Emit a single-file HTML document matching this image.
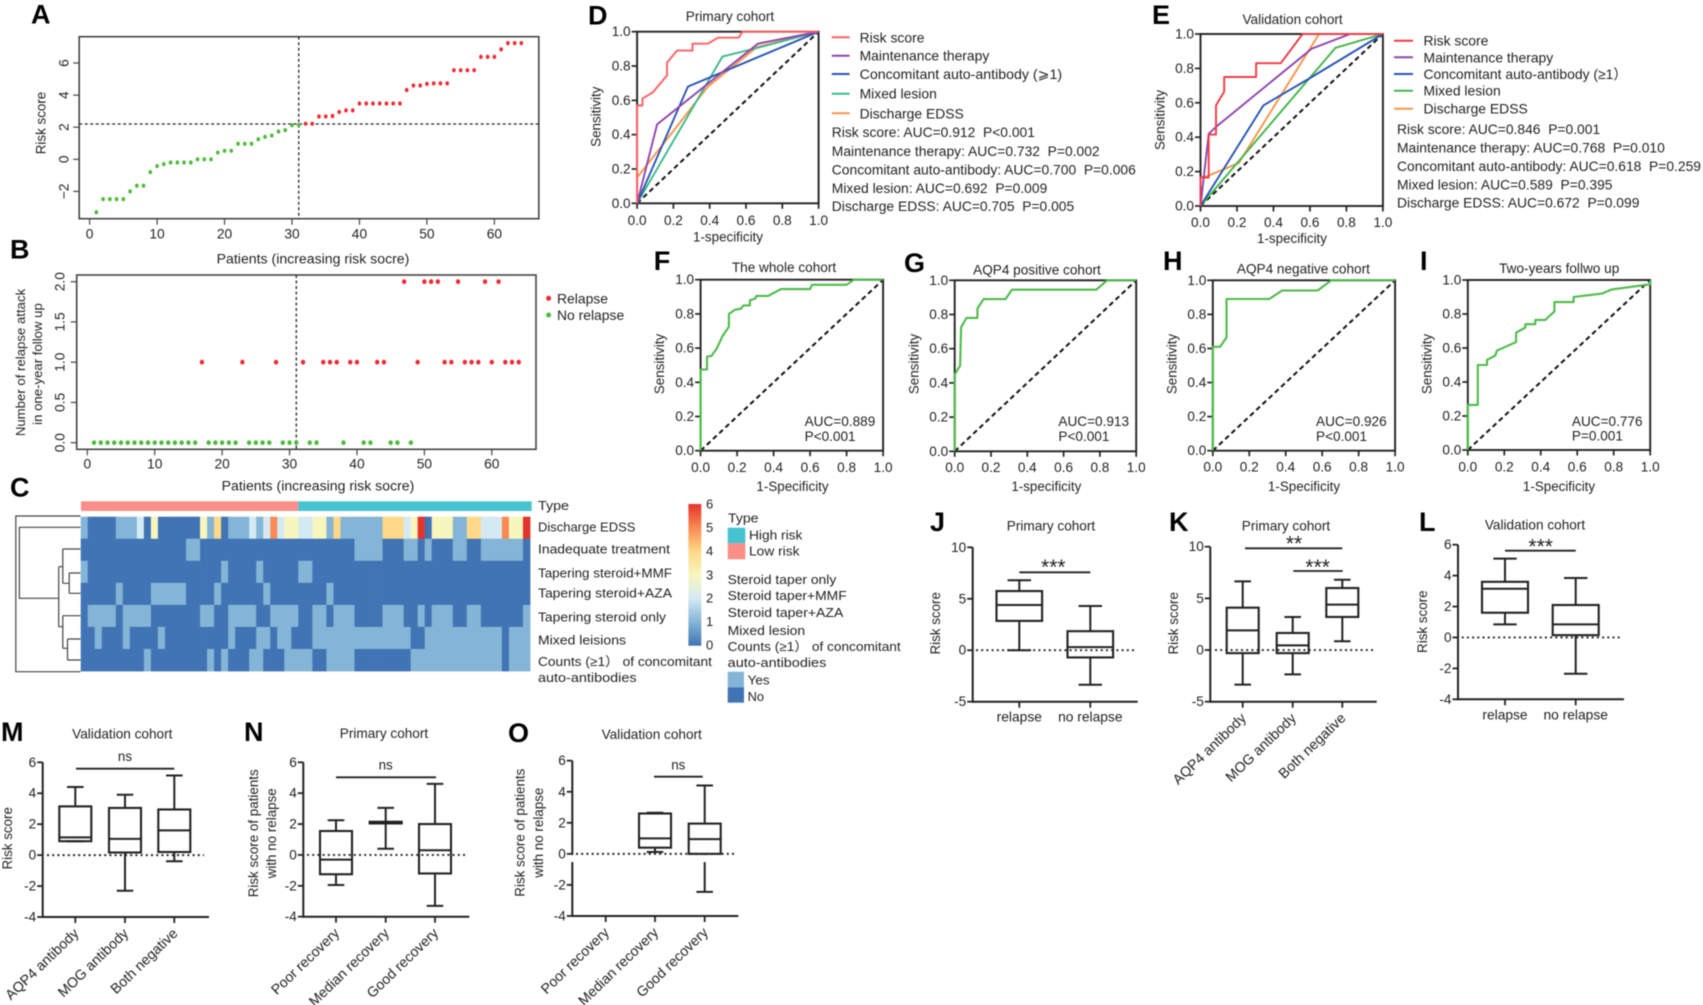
<!DOCTYPE html>
<html lang="en">
<head>
<meta charset="utf-8">
<title>Risk score figure panels A-O</title>
<style>
html,body{margin:0;padding:0;background:#fff;width:1703px;height:1005px;overflow:hidden}
svg{display:block;filter:blur(0.55px)}
text{font-family:"Liberation Sans","Noto Sans CJK SC","DejaVu Sans",sans-serif;fill:#222;font-size:14px;dominant-baseline:central;white-space:pre}
.letter{font-size:27px;font-weight:bold;fill:#000}
.title{font-size:13.6px;text-anchor:middle}
.axlab{font-size:13.4px;text-anchor:middle}
.leg{font-size:13.9px}
.stat{font-size:13.85px}
.auc{font-size:13.6px}
.heat{font-size:13px}
.sig{font-size:21px;text-anchor:middle}
</style>
</head>
<body>
<svg id="figure" xmlns="http://www.w3.org/2000/svg" width="1703" height="1005" viewBox="0 0 1703 1005">
<defs>
<linearGradient id="heat-gradient" x1="0" y1="1" x2="0" y2="0">
<stop offset="0" stop-color="#4174b4"/><stop offset="0.167" stop-color="#84b5d6"/><stop offset="0.333" stop-color="#d4eaf3"/><stop offset="0.5" stop-color="#f7f6bd"/><stop offset="0.667" stop-color="#fed987"/><stop offset="0.833" stop-color="#f98a54"/><stop offset="1" stop-color="#e3342b"/>
</linearGradient>
</defs>

<g id="panel-a">
<text class="letter" x="31" y="14.5">A</text>
<text class="axlab" transform="translate(41 123) rotate(-90)">Risk score</text>
<text class="axlab" style="font-size:14.1px" x="313" y="258.5">Patients (increasing risk socre)</text>
</g>

<g id="panel-b">
<text class="letter" x="10" y="249.5">B</text>
<text class="axlab" style="font-size:13.2px" transform="translate(20.4 362.5) rotate(-90)">Number of relapse attack</text>
<text class="axlab" style="font-size:13.2px" transform="translate(37.5 364) rotate(-90)">in one-year follow up</text>
<text class="axlab" style="font-size:14.1px" x="318" y="485.7">Patients (increasing risk socre)</text>
<circle cx="548.6" cy="298.3" r="2.5" fill="#ee2a32"/>
<text x="557" y="298.3" class="leg">Relapse</text>
<circle cx="548.6" cy="315" r="2.5" fill="#4dbb3a"/>
<text x="557" y="315" class="leg">No relapse</text>
</g>

<g id="panel-c">
<text class="letter" x="10" y="487.5">C</text>
<path fill="none" stroke="#444" stroke-width="1.2" d="M80.4 516H15.8V671.7H80.4M80.4 527.3H19.4V598.3H58.7M58.7 566.7V626.7M58.7 566.7H62.8M62.8 549V583.3M62.8 549H80.4M62.8 583.3H69.2M69.2 573V593.3M69.2 573H80.4M69.2 593.3H80.4M58.7 626.7H62.8M62.8 615.7V648.3M62.8 615.7H80.4M62.8 648.3H67.5M67.5 639V660M67.5 639H80.4M67.5 660H80.4"/>
<text class="heat" x="538" y="505.7" textLength="31" lengthAdjust="spacingAndGlyphs">Type</text>
<text class="heat" x="538" y="527" textLength="97.4" lengthAdjust="spacingAndGlyphs">Discharge EDSS</text>
<text class="heat" x="538" y="549" textLength="132" lengthAdjust="spacingAndGlyphs">Inadequate treatment</text>
<text class="heat" x="538" y="573" textLength="134" lengthAdjust="spacingAndGlyphs">Tapering steroid+MMF</text>
<text class="heat" x="538" y="593" textLength="134" lengthAdjust="spacingAndGlyphs">Tapering steroid+AZA</text>
<text class="heat" x="538" y="617" textLength="128" lengthAdjust="spacingAndGlyphs">Tapering steroid only</text>
<text class="heat" x="538" y="640" textLength="88" lengthAdjust="spacingAndGlyphs">Mixed leisions</text>
<text class="heat" x="538" y="661.7" textLength="174" lengthAdjust="spacingAndGlyphs">Counts (≥1） of concomitant</text>
<text class="heat" x="538" y="677.7" textLength="98.6" lengthAdjust="spacingAndGlyphs">auto-antibodies</text>
<rect x="688.4" y="504" width="12.9" height="141.7" fill="url(#heat-gradient)"/>
<text class="heat" x="706" y="504">6</text>
<text class="heat" x="706" y="527.7">5</text>
<text class="heat" x="706" y="551">4</text>
<text class="heat" x="706" y="575">3</text>
<text class="heat" x="706" y="598">2</text>
<text class="heat" x="706" y="621.7">1</text>
<text class="heat" x="706" y="645">0</text>
<text class="heat" x="728" y="518" textLength="30.5" lengthAdjust="spacingAndGlyphs">Type</text>
<rect x="727.7" y="527.7" width="17.6" height="15.6" fill="#45c4d0"/>
<rect x="727.7" y="543.3" width="17.6" height="16" fill="#f98f88"/>
<text class="heat" x="749" y="535" textLength="53.4" lengthAdjust="spacingAndGlyphs">High risk</text>
<text class="heat" x="749" y="551" textLength="50.5" lengthAdjust="spacingAndGlyphs">Low risk</text>
<text class="heat" x="727.7" y="579.3" textLength="108.6" lengthAdjust="spacingAndGlyphs">Steroid taper only</text>
<text class="heat" x="727.7" y="595.7" textLength="119" lengthAdjust="spacingAndGlyphs">Steroid taper+MMF</text>
<text class="heat" x="727.7" y="612.7" textLength="115.6" lengthAdjust="spacingAndGlyphs">Steroid taper+AZA</text>
<text class="heat" x="727.7" y="630.7" textLength="77.5" lengthAdjust="spacingAndGlyphs">Mixed lesion</text>
<text class="heat" x="727.7" y="646.7" textLength="173" lengthAdjust="spacingAndGlyphs">Counts (≥1） of concomitant</text>
<text class="heat" x="727.7" y="662.3" textLength="98.6" lengthAdjust="spacingAndGlyphs">auto-antibodies</text>
<rect x="727.7" y="671.7" width="16.3" height="15.6" fill="#84b5d6"/>
<rect x="727.7" y="687.3" width="16.3" height="15.4" fill="#4174b4"/>
<text class="heat" x="747.6" y="680" textLength="22" lengthAdjust="spacingAndGlyphs">Yes</text>
<text class="heat" x="747.6" y="696.7" textLength="16.4" lengthAdjust="spacingAndGlyphs">No</text>
</g>

<g id="panel-d">
<text class="letter" x="588" y="15.3">D</text>
<text class="title" x="730" y="16.7">Primary cohort</text>
<text class="axlab" transform="translate(596 116.7) rotate(-90)">Sensitivity</text>
<text class="axlab" x="728" y="237">1-specificity</text>
<line x1="831.8" x2="849.6" y1="37.3" y2="37.3" stroke="#ff5f63" stroke-width="2"/>
<line x1="831.8" x2="849.6" y1="55.7" y2="55.7" stroke="#8e44ad" stroke-width="2"/>
<line x1="831.8" x2="849.6" y1="74" y2="74" stroke="#2a55b5" stroke-width="2"/>
<line x1="831.8" x2="849.6" y1="93.7" y2="93.7" stroke="#3cb98a" stroke-width="2"/>
<line x1="831.8" x2="849.6" y1="113.3" y2="113.3" stroke="#f7964a" stroke-width="2"/>
<text class="leg" x="859.6" y="37.3">Risk score</text>
<text class="leg" x="859.6" y="55.7">Maintenance therapy</text>
<text class="leg" x="859.6" y="74" textLength="202.5" lengthAdjust="spacingAndGlyphs">Concomitant auto-antibody (⩾1)</text>
<text class="leg" x="859.6" y="93.7">Mixed lesion</text>
<text class="leg" x="859.6" y="113.3">Discharge EDSS</text>
<text class="stat" x="831.8" y="132">Risk score: AUC=0.912  P&lt;0.001</text>
<text class="stat" x="831.8" y="151">Maintenance therapy: AUC=0.732  P=0.002</text>
<text class="stat" x="831.8" y="169.7">Concomitant auto-antibody: AUC=0.700  P=0.006</text>
<text class="stat" x="831.8" y="188">Mixed lesion: AUC=0.692  P=0.009</text>
<text class="stat" x="831.8" y="206">Discharge EDSS: AUC=0.705  P=0.005</text>
</g>

<g id="panel-e">
<text class="letter" x="1152" y="15">E</text>
<text class="title" x="1292.6" y="19.3">Validation cohort</text>
<text class="axlab" transform="translate(1160 120) rotate(-90)">Sensitivity</text>
<text class="axlab" x="1292" y="238.3">1-specificity</text>
<line x1="1394" x2="1413" y1="40.7" y2="40.7" stroke="#ee3b45" stroke-width="2"/>
<line x1="1394" x2="1413" y1="57.3" y2="57.3" stroke="#8e44ad" stroke-width="2"/>
<line x1="1394" x2="1413" y1="74" y2="74" stroke="#2a55b5" stroke-width="2"/>
<line x1="1394" x2="1413" y1="90.7" y2="90.7" stroke="#43b649" stroke-width="2"/>
<line x1="1394" x2="1413" y1="108.7" y2="108.7" stroke="#f7964a" stroke-width="2"/>
<text class="leg" x="1423.5" y="40.7">Risk score</text>
<text class="leg" x="1423.5" y="57.3">Maintenance therapy</text>
<text class="leg" x="1423.5" y="74">Concomitant auto-antibody (≥1）</text>
<text class="leg" x="1423.5" y="90.7">Mixed lesion</text>
<text class="leg" x="1423.5" y="108.7">Discharge EDSS</text>
<text class="stat" x="1397" y="129">Risk score: AUC=0.846  P=0.001</text>
<text class="stat" x="1397" y="147.7">Maintenance therapy: AUC=0.768  P=0.010</text>
<text class="stat" x="1397" y="166">Concomitant auto-antibody: AUC=0.618  P=0.259</text>
<text class="stat" x="1397" y="184.3">Mixed lesion: AUC=0.589  P=0.395</text>
<text class="stat" x="1397" y="202.7">Discharge EDSS: AUC=0.672  P=0.099</text>
</g>

<g id="panel-f">
<text class="letter" x="653.8" y="261">F</text>
<text class="title" x="784" y="267.3">The whole cohort</text>
<text class="axlab" transform="translate(659.6 364) rotate(-90)">Sensitivity</text>
<text class="axlab" x="792.5" y="486.7">1-Specificity</text>
<text class="auc" x="804.6" y="421.7">AUC=0.889</text>
<text class="auc" x="804.6" y="436.7">P&lt;0.001</text>
</g>
<g id="panel-g">
<text class="letter" x="904" y="263">G</text>
<text class="title" x="1037" y="270">AQP4 positive cohort</text>
<text class="axlab" transform="translate(913.8 364) rotate(-90)">Sensitivity</text>
<text class="axlab" x="1046.3" y="486.7">1-specificity</text>
<text class="auc" x="1058.4" y="421.7">AUC=0.913</text>
<text class="auc" x="1058.4" y="436.7">P&lt;0.001</text>
</g>
<g id="panel-h">
<text class="letter" x="1163" y="261">H</text>
<text class="title" x="1303.4" y="269">AQP4 negative cohort</text>
<text class="axlab" transform="translate(1171.9 364) rotate(-90)">Sensitivity</text>
<text class="axlab" x="1304" y="486.7">1-Specificity</text>
<text class="auc" x="1316" y="421.7">AUC=0.926</text>
<text class="auc" x="1316" y="436.7">P&lt;0.001</text>
</g>
<g id="panel-i">
<text class="letter" x="1420" y="261">I</text>
<text class="title" x="1559.2" y="268.3">Two-years follwo up</text>
<text class="axlab" transform="translate(1426.9 364) rotate(-90)">Sensitivity</text>
<text class="axlab" x="1559" y="486.7">1-Specificity</text>
<text class="auc" x="1571.9" y="421.7">AUC=0.776</text>
<text class="auc" x="1571.9" y="436">P=0.001</text>
</g>

<g id="panel-j">
<text class="letter" x="930" y="522">J</text>
<text class="title" x="1051" y="526">Primary cohort</text>
<text class="axlab" transform="translate(935.7 623.3) rotate(-90)">Risk score</text>
<line x1="1019.3" x2="1090.3" y1="572.3" y2="572.3" stroke="#222" stroke-width="1.8"/>
<text class="sig" x="1053.3" y="567.6">***</text>
</g>
<g id="panel-k">
<text class="letter" x="1169" y="522">K</text>
<text class="title" x="1286" y="526">Primary cohort</text>
<text class="axlab" transform="translate(1173.3 623.3) rotate(-90)">Risk score</text>
<line x1="1245" x2="1342.3" y1="548.3" y2="548.3" stroke="#222" stroke-width="1.8"/>
<text class="sig" x="1294" y="544">**</text>
<line x1="1293.3" x2="1342.7" y1="571" y2="571" stroke="#222" stroke-width="1.8"/>
<text class="sig" x="1317.7" y="567.6">***</text>
</g>
<g id="panel-l">
<text class="letter" x="1419" y="522">L</text>
<text class="title" x="1535" y="525">Validation cohort</text>
<text class="axlab" transform="translate(1422.7 621.7) rotate(-90)">Risk score</text>
<line x1="1505" x2="1575.7" y1="550.7" y2="550.7" stroke="#222" stroke-width="1.8"/>
<text class="sig" x="1540.7" y="547">***</text>
</g>
<g id="panel-m">
<text class="letter" x="1" y="732">M</text>
<text class="title" x="122.3" y="734">Validation cohort</text>
<text class="axlab" transform="translate(7.7 838.3) rotate(-90)">Risk score</text>
<line x1="76" x2="174.3" y1="768.7" y2="768.7" stroke="#222" stroke-width="1.8"/>
<text class="axlab" x="125" y="756.7">ns</text>
</g>
<g id="panel-n">
<text class="letter" x="244" y="732">N</text>
<text class="title" x="384" y="733.3">Primary cohort</text>
<text class="axlab" transform="translate(253.3 833.3) rotate(-90)">Risk score of patients</text>
<text class="axlab" transform="translate(271.7 833.3) rotate(-90)">with no relapse</text>
<line x1="336" x2="436" y1="777.3" y2="777.3" stroke="#222" stroke-width="1.8"/>
<text class="axlab" x="385.7" y="765">ns</text>
</g>
<g id="panel-o">
<text class="letter" x="508" y="733">O</text>
<text class="title" x="651.7" y="734.3">Validation cohort</text>
<text class="axlab" transform="translate(520 832.7) rotate(-90)">Risk score of patients</text>
<text class="axlab" transform="translate(538.3 832.7) rotate(-90)">with no relapse</text>
<line x1="654" x2="702.7" y1="776.7" y2="776.7" stroke="#222" stroke-width="1.8"/>
<text class="axlab" x="678.3" y="765">ns</text>
</g>
</svg>

<script>
// ---------- Panels A and B ----------
const riskScores = [-3.3,-2.48,-2.48,-2.48,-2.48,-2,-1.65,-1.65,-0.8,-0.42,-0.3,-0.2,-0.2,-0.2,-0.2,0,0,0,0.42,0.53,0.53,0.97,0.97,0.97,1.25,1.4,1.48,1.73,1.82,2.13,2.13,2.22,2.22,2.67,2.67,2.7,2.95,3.05,3.05,3.48,3.48,3.48,3.48,3.48,3.48,3.48,4.32,4.6,4.6,4.7,4.73,4.73,4.73,5.55,5.55,5.55,5.55,6.38,6.38,6.38,6.85,7.24,7.24,7.24];
const relapseCounts = [0,0,0,0,0,0,0,0,0,0, 0,0,0,0,0,0,1,0,0,0, 0,0,1,0,0,0,0,1,0,0, 0,1,0,0,1,1,1,0,1,1, 0,0,1,1,0,0,2,0,1,2, 2,2,1,1,2,1,1,1,2,1, 2,1,1,1];
const riskCutoffPatient = 31;
const riskCutoffScore = 2.2;
const patientTicks = [0,10,20,30,40,50,60];
const riskTicks = [-2,0,2,4,6];
const riskTickLabels = ['−2','0','2','4','6'];
const relapseTicks = [0,0.5,1,1.5,2];
const relapseTickLabels = ['0.0','0.5','1.0','1.5','2.0'];

// ---------- Panel C ----------
const heatDischargeEdss = [1,0,0,0,0,1,1,1,2,0, 3,0,0,0,0,0,0,3,1,4, 0,1,1,1,2,1,2,5,2,3, 3,2,2,3,3,1,4,1,1,1, 1,1,1,4,4,4,2,3,6,0, 3,3,3,1,1,4,4,2,2,2, 5,3,3,6];
const heatInadequateTreatment = [0,0,0,0,0,0,0,0,0,0, 0,0,0,0,0,1,1,0,0,0, 0,0,0,0,0,0,0,0,0,0, 0,0,0,0,0,0,0,0,0,1, 1,1,1,0,0,0,1,1,0,1, 0,0,0,1,1,0,0,1,1,1, 1,1,1,0];
const heatSteroidMmf = [1,0,0,0,0,0,0,0,0,0, 0,0,0,0,0,0,0,0,0,0, 1,0,0,0,0,1,0,0,0,0, 0,1,1,0,0,0,0,0,0,0, 0,0,0,0,0,0,0,0,0,0, 0,0,0,0,0,0,0,0,0,0, 0,0,0,0];
const heatSteroidAza = [0,0,0,0,0,1,0,0,0,0, 1,1,1,1,1,0,0,0,0,1, 0,0,0,0,0,0,1,0,0,0, 0,0,0,0,0,1,0,0,0,0, 0,0,0,0,0,0,0,0,0,0, 0,0,0,0,0,0,0,0,0,0, 0,0,0,0];
const heatSteroidOnly = [0,1,1,1,1,0,1,1,1,1, 0,0,0,0,0,0,0,1,1,0, 0,1,1,1,1,0,0,1,1,1, 1,0,0,1,1,0,1,1,1,0, 0,0,0,1,1,1,0,0,1,0, 1,1,1,0,0,1,1,0,0,0, 0,0,0,1];
const heatMixedLesions = [0,0,1,0,0,0,1,0,0,0, 0,1,0,0,0,0,0,0,0,0, 0,1,0,0,0,1,1,0,1,1, 0,0,0,1,1,1,1,1,1,1, 1,1,1,1,1,1,1,0,0,1, 1,1,1,1,1,1,1,1,1,1, 0,1,1,1];
const heatAntibodyCounts = [0,0,0,0,0,0,0,0,0,1, 0,0,0,0,0,0,0,0,1,0, 1,0,0,0,1,1,0,0,0,1, 1,1,1,0,0,1,1,1,1,0, 0,0,0,0,0,0,0,1,1,1, 1,1,1,1,1,1,1,1,1,1, 0,1,1,1];
const heatPalette = ['#4174b4','#84b5d6','#d4eaf3','#f7f6bd','#fed987','#f98a54','#e3342b'];

// ---------- ROC curves: [1-specificity, sensitivity] ----------
const rocTicks = [0,0.2,0.4,0.6,0.8,1];
const rocTickLabels = ['0.0','0.2','0.4','0.6','0.8','1.0'];
const rocDRiskScore = [[0,0],[0,.57],[.03,.57],[.03,.61],[.085,.645],[.165,.745],[.165,.82],[.22,.89],[.305,.89],[.305,.93],[.39,.93],[.445,.965],[.56,.965],[.58,1],[1,1]];
const rocDMaintenance = [[0,0],[.11,.46],[.665,.93],[1,1]];
const rocDConcomitant = [[0,0],[.28,.68],[1,1]];
const rocDMixed = [[0,0],[.47,.855],[.66,.905],[1,1]];
const rocDEdss = [[0,0],[0,.15],[.39,.68],[.66,.91],[1,1]];
const rocERiskScore = [[0,0],[0,.165],[.045,.165],[.045,.415],[.085,.415],[.085,.585],[.13,.665],[.13,.75],[.305,.75],[.305,.83],[.44,.83],[.56,1],[1,1]];
const rocEMaintenance = [[0,0],[.045,.42],[.085,.46],[.61,.915],[.82,1],[1,1]];
const rocEConcomitant = [[0,0],[.345,.585],[.61,.75],[1,1]];
const rocEMixed = [[0,0],[.74,.92],[1,1]];
const rocEEdss = [[0,0],[0,.165],[.04,.175],[.21,.25],[.65,1],[1,1]];
const rocWhole = [[0,0],[0,.475],[.035,.475],[.035,.55],[.06,.555],[.09,.6],[.12,.67],[.155,.725],[.155,.8],[.19,.825],[.22,.83],[.235,.85],[.27,.85],[.27,.88],[.3,.89],[.305,.905],[.37,.905],[.44,.945],[.6,.945],[.61,.97],[.8,.97],[.84,1],[1,1]];
const rocAqp4Positive = [[0,0],[0,.45],[.03,.5],[.035,.725],[.065,.78],[.125,.78],[.125,.835],[.16,.89],[.28,.89],[.315,.945],[.78,.945],[.84,1],[1,1]];
const rocAqp4Negative = [[0,0],[0,.61],[.04,.61],[.075,.665],[.075,.89],[.31,.89],[.38,.94],[.575,.94],[.65,1],[1,1]];
const rocTwoYear = [[0,0],[0,.265],[.055,.265],[.055,.5],[.105,.5],[.105,.53],[.15,.555],[.16,.585],[.265,.635],[.265,.69],[.315,.72],[.315,.74],[.37,.74],[.37,.765],[.425,.765],[.475,.815],[.475,.87],[.58,.87],[.58,.9],[.735,.92],[.79,.945],[1,.975],[1,1]];

// ---------- Box plots: [low whisker, q1, median, q3, high whisker] ----------
const boxTicksWide = [-5,0,5,10];
const boxTicksNarrow = [-4,-2,0,2,4,6];
const relapseCategories = ['relapse','no relapse'];
const antibodyCategories = ['AQP4 antibody','MOG antibody','Both negative'];
const recoveryCategories = ['Poor recovery','Median recovery','Good recovery'];
const boxJRelapse = [0,2.85,4.4,5.75,6.8];
const boxJNoRelapse = [-3.35,-0.7,0.3,1.85,4.3];
const boxKAqp4 = [-3.35,-0.3,1.9,4.1,6.65];
const boxKMog = [-2.35,-0.3,0.45,1.65,3.2];
const boxKBoth = [0.85,3.2,4.4,6,6.8];
const boxLRelapse = [0.85,1.6,3.15,3.6,5.1];
const boxLNoRelapse = [-2.35,0.15,0.85,2.1,3.85];
const boxMAqp4 = [0.9,0.9,1.15,3.15,4.4];
const boxMMog = [-2.3,0.17,1.05,3.05,3.9];
const boxMBoth = [-0.4,0.2,1.6,2.95,5.15];
const boxNPoor = [-1.95,-1.25,-0.3,1.55,2.25];
const boxNMedian = [0.4,2.04,2.1,2.15,3.05];
const boxNGood = [-3.3,-1.2,0.3,2,4.6];
const boxOPoor = null;
const boxOMedian = [0.12,0.4,1,2.6,2.65];
const boxOGood = [-2.45,0,0.95,1.95,4.4];

// ---------- Helpers ----------
const NS = 'http://www.w3.org/2000/svg';
function scale(d0, d1, p0, p1) { return function (v) { return p0 + (v - d0) * (p1 - p0) / (d1 - d0); }; }
function mk(parent, tag, props) {
  const el = document.createElementNS(NS, tag);
  for (const k in props) { el.setAttribute(k, props[k]); }
  parent.appendChild(el);
  return el;
}
function line(parent, name, x1, y1, x2, y2, stroke, width, dash) {
  const el = mk(parent, 'line', { x1: x1, y1: y1, x2: x2, y2: y2, stroke: stroke, 'stroke-width': width });
  if (dash) { el.setAttribute('stroke-dasharray', dash); }
  
  
  return el;
}
function label(parent, name, str, x, y, size, anchor, transform) {
  const el = mk(parent, 'text', { x: x, y: y, 'text-anchor': anchor });
  el.style.fontSize = size + 'px';
  if (transform) { el.setAttribute('transform', transform); }
  el.textContent = str;
  
  
  return el;
}
function frameRect(parent, name, l, t, r, b, stroke, width) {
  const el = mk(parent, 'rect', { x: l, y: t, width: r - l, height: b - t, fill: 'none', stroke: stroke, 'stroke-width': width });
  
  
  return el;
}
function panel(id) { return document.getElementById(id); }

// ---------- Scatter panels ----------
function scatterAxes(g, box, xScale, yScale, yTicks, yLabels, tickLabelX, xLabelY) {
  frameRect(g, 'plot-frame', box.l, box.t, box.r, box.b, '#444', 1.6);
  patientTicks.forEach(function (t) {
    line(g, 'x-axis-tick', xScale(t), box.b, xScale(t), box.b + 6, '#444', 1.2);
    label(g, 'x-tick-label', String(t), xScale(t), xLabelY, 13.8, 'middle');
  });
  yTicks.forEach(function (t, i) {
    line(g, 'y-axis-tick', box.l - 6, yScale(t), box.l, yScale(t), '#444', 1.2);
    label(g, 'y-tick-label', yLabels[i], 0, 0, 13.8, 'middle', 'translate(' + tickLabelX + ' ' + yScale(t) + ') rotate(-90)');
  });
}
(function drawA() {
  const g = panel('panel-a');
  const box = { l: 79.2, r: 538.8, t: 36.7, b: 218.7 };
  const x = scale(0, 60, 89.6, 494.4);
  const y = scale(0, 6, 159.3, 63);
  scatterAxes(g, box, x, y, riskTicks, riskTickLabels, 64, 234);
  line(g, 'risk-cutoff-vertical-line', x(riskCutoffPatient), box.t, x(riskCutoffPatient), box.b, '#222', 1.3, '3 2.5');
  line(g, 'risk-cutoff-horizontal-line', box.l, y(riskCutoffScore), box.r, y(riskCutoffScore), '#222', 1.3, '3 2.5');
  riskScores.forEach(function (v, i) {
    const el = mk(g, 'ellipse', { cx: x(i + 1), cy: y(v), rx: 1.8, ry: 2.1, fill: i < riskCutoffPatient ? '#4dbb3a' : '#ee2a32' });
    
    
  });
})();
(function drawB() {
  const g = panel('panel-b');
  const box = { l: 76.7, r: 536, t: 275, b: 449.3 };
  const x = scale(0, 60, 87.3, 491.8);
  const y = scale(0, 2, 442.7, 281.7);
  scatterAxes(g, box, x, y, relapseTicks, relapseTickLabels, 60, 464);
  line(g, 'risk-cutoff-vertical-line', x(riskCutoffPatient), box.t, x(riskCutoffPatient), box.b, '#222', 1.3, '3 2.5');
  relapseCounts.forEach(function (v, i) {
    const el = mk(g, 'ellipse', { cx: x(i + 1), cy: y(v), rx: 2.2, ry: 2.4, fill: v > 0 ? '#ee2a32' : '#4dbb3a' });
    
    
  });
})();

// ---------- Heatmap ----------
(function drawHeat() {
  const g = panel('panel-c');
  const rows = [heatDischargeEdss, heatInadequateTreatment, heatSteroidMmf, heatSteroidAza, heatSteroidOnly, heatMixedLesions, heatAntibodyCounts];
  const colX = scale(0, heatDischargeEdss.length, 80.7, 530);
  const rowY = scale(0, rows.length, 516.7, 671);
  const low = mk(g, 'rect', { x: 81, y: 501.3, width: colX(riskCutoffPatient) - 81, height: 9.7, fill: '#f98f88' });
  
  
  const high = mk(g, 'rect', { x: colX(riskCutoffPatient), y: 501.3, width: 531.7 - colX(riskCutoffPatient), height: 9.7, fill: '#45c4d0' });
  
  
  rows.forEach(function (row, r) {
    row.forEach(function (v, c) {
      const cell = mk(g, 'rect', { x: colX(c), y: rowY(r), width: colX(c + 1) - colX(c) + 0.4, height: rowY(r + 1) - rowY(r) + 0.4, fill: heatPalette[v] });
      
      
    });
  });
})();

// ---------- ROC panels ----------
function drawRoc(id, box, tickY, curves, colors, width) {
  const g = panel(id);
  const x = scale(0, 1, box.l, box.r);
  const y = scale(0, 1, box.b, box.t);
  frameRect(g, 'plot-frame', box.l, box.t, box.r, box.b, '#222', 1.9);
  rocTicks.forEach(function (t, i) {
    line(g, 'x-axis-tick', x(t), box.b, x(t), box.b + 5.5, '#222', 1.7);
    label(g, 'x-tick-label', rocTickLabels[i], x(t), tickY, 13.6, 'middle');
    line(g, 'y-axis-tick', box.l - 5.5, y(t), box.l, y(t), '#222', 1.7);
    label(g, 'y-tick-label', rocTickLabels[i], box.l - 6.5, y(t), 13.6, 'end');
  });
  line(g, 'reference-diagonal', x(0), y(0), x(1), y(1), '#111', 2, '5 3.5');
  curves.forEach(function (pts, i) {
    const d = pts.map(function (p) { return x(p[0]).toFixed(1) + ',' + y(p[1]).toFixed(1); }).join(' ');
    const el = mk(g, 'polyline', { points: d, fill: 'none', stroke: colors[i], 'stroke-width': width, 'stroke-linejoin': 'round' });
    
    
  });
}
drawRoc('panel-d', { l: 637.1, r: 818.6, t: 31.7, b: 203.3 }, 220.7,
  [rocDEdss, rocDMixed, rocDConcomitant, rocDMaintenance, rocDRiskScore],
  ['#f7964a', '#3cb98a', '#2a55b5', '#8e44ad', '#ff5f63'], 1.9);
drawRoc('panel-e', { l: 1200.5, r: 1382.9, t: 34, b: 206 }, 222.7,
  [rocEEdss, rocEMixed, rocEConcomitant, rocEMaintenance, rocERiskScore],
  ['#f7964a', '#43b649', '#2a55b5', '#8e44ad', '#ee3b45'], 1.9);
drawRoc('panel-f', { l: 700.6, r: 883.1, t: 279.7, b: 450.7 }, 467.7, [rocWhole], ['#4dbb4a'], 2.1);
drawRoc('panel-g', { l: 954.7, r: 1136.2, t: 280.3, b: 451.3 }, 467.7, [rocAqp4Positive], ['#4dbb4a'], 2.1);
drawRoc('panel-h', { l: 1212.8, r: 1395.1, t: 280.3, b: 450.7 }, 467, [rocAqp4Negative], ['#4dbb4a'], 2.1);
drawRoc('panel-i', { l: 1467.8, r: 1650.2, t: 280, b: 450 }, 467, [rocTwoYear], ['#4dbb4a'], 2.1);

// ---------- Box panels ----------
function drawBoxes(opt) {
  const g = panel(opt.id);
  const y = scale(opt.d0, opt.d1, opt.p0, opt.p1);
  const axisY = y(opt.d0);
  const top = y(opt.d1);
  line(g, 'y-axis-line', opt.axisX, top, opt.axisX, axisY + 1, '#222', 2);
  line(g, 'x-axis-line', opt.axisX, axisY, opt.axisEnd, axisY, '#222', 2);
  opt.ticks.forEach(function (t) {
    line(g, 'y-axis-tick', opt.axisX - 5.5, y(t), opt.axisX, y(t), '#222', 1.8);
    label(g, 'y-tick-label', String(t), opt.axisX - 6.5, y(t), 13.6, 'end');
  });
  line(g, 'zero-reference-line', opt.dot0, y(0), opt.dot1, y(0), '#222', 1.9, '2 3.2');
  opt.categories.forEach(function (name, i) {
    const cx = opt.centers[i];
    line(g, 'x-axis-tick', cx, axisY, cx, axisY + 6, '#222', 1.8);
    if (opt.rotate) {
      const tx = cx + 1.5;
      const ty = axisY + 14.5;
      label(g, 'x-tick-label', name, tx, ty, 14.2, 'end', 'rotate(-44 ' + tx + ' ' + ty + ')');
    } else {
      label(g, 'x-tick-label', name, cx, axisY + 15.5, 13.8, 'middle');
    }
    const b = opt.boxes[i];
    if (!b) { return; }
    const low = b[0], q1 = b[1], med = b[2], q3 = b[3], high = b[4];
    line(g, 'whisker-high', cx, y(q3), cx, y(high), '#222', 2);
    line(g, 'whisker-low', cx, y(q1), cx, y(low), '#222', 2);
    line(g, 'whisker-cap-high', cx - opt.cap, y(high), cx + opt.cap, y(high), '#222', 2);
    line(g, 'whisker-cap-low', cx - opt.cap, y(low), cx + opt.cap, y(low), '#222', 2);
    const rect = mk(g, 'rect', { x: cx - opt.half, y: y(q3), width: opt.half * 2, height: y(q1) - y(q3), fill: 'none', stroke: '#222', 'stroke-width': 2.1 });
    
    
    line(g, 'median-line', cx - opt.half, y(med), cx + opt.half, y(med), '#222', 2);
  });
  if (opt.gap) {
    const mask = mk(g, 'rect', { x: opt.axisX - 2, y: y(0) + 1.2, width: opt.axisEnd - opt.axisX, height: 7, fill: '#fff' });
    
    
  }
}
drawBoxes({ id: 'panel-j', d0: -5, d1: 10, p0: 701.7, p1: 547.3, axisX: 972.7, axisEnd: 1137.7, ticks: boxTicksWide, dot0: 976, dot1: 1135, categories: relapseCategories, centers: [1019.3, 1090.3], boxes: [boxJRelapse, boxJNoRelapse], half: 22.8, cap: 11.7 });
drawBoxes({ id: 'panel-k', d0: -5, d1: 10, p0: 701.7, p1: 546.7, axisX: 1210.3, axisEnd: 1376.7, ticks: boxTicksWide, dot0: 1215, dot1: 1373, categories: antibodyCategories, centers: [1242.7, 1292.7, 1342.3], boxes: [boxKAqp4, boxKMog, boxKBoth], half: 16, cap: 8.3, rotate: true });
drawBoxes({ id: 'panel-l', d0: -4, d1: 6, p0: 699.3, p1: 544.7, axisX: 1458, axisEnd: 1624, ticks: boxTicksNarrow, dot0: 1461.7, dot1: 1620.7, categories: relapseCategories, centers: [1505, 1575.7], boxes: [boxLRelapse, boxLNoRelapse], half: 23, cap: 11.7 });
drawBoxes({ id: 'panel-m', d0: -4, d1: 6, p0: 917, p1: 762.3, axisX: 42.7, axisEnd: 209, ticks: boxTicksNarrow, dot0: 47, dot1: 204, categories: antibodyCategories, centers: [75.3, 125, 174.3], boxes: [boxMAqp4, boxMMog, boxMBoth], half: 16, cap: 8.3, rotate: true });
drawBoxes({ id: 'panel-n', d0: -4, d1: 6, p0: 916.7, p1: 762.3, axisX: 303.3, axisEnd: 469.3, ticks: boxTicksNarrow, dot0: 307, dot1: 466, categories: recoveryCategories, centers: [336, 385.7, 435], boxes: [boxNPoor, boxNMedian, boxNGood], half: 16, cap: 8.3, rotate: true });
drawBoxes({ id: 'panel-o', d0: -4, d1: 6, p0: 916, p1: 760.7, axisX: 572.3, axisEnd: 738.3, ticks: boxTicksNarrow, dot0: 576, dot1: 735, categories: recoveryCategories, centers: [605.7, 655, 704.7], boxes: [boxOPoor, boxOMedian, boxOGood], half: 16, cap: 8.3, rotate: true, gap: true });
</script>
</body>
</html>
